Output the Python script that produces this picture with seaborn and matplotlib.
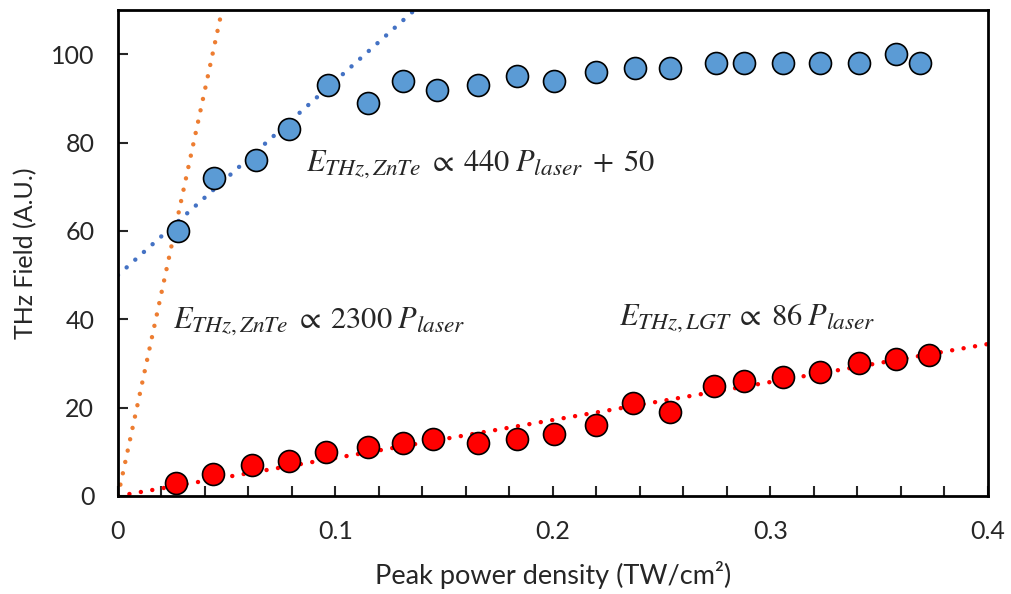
import matplotlib
matplotlib.use("Agg")
import numpy as np
import matplotlib.pyplot as plt
import seaborn as sns
from matplotlib.ticker import MultipleLocator, FuncFormatter

# bigger subscripts, closer to the Cambria Math look of the original
try:
    import matplotlib._mathtext as _mt
    _mt.SHRINK_FACTOR = 0.76
except Exception:
    pass

# ZnTe data (blue)
znte_x = [0.0276, 0.0441, 0.0634, 0.0786, 0.0966, 0.115, 0.131, 0.1467, 0.1655, 0.1834,
          0.2005, 0.220, 0.238, 0.254, 0.275, 0.288, 0.306, 0.323, 0.341, 0.358, 0.369]
znte_y = [60, 72, 76, 83, 93, 89, 94, 92, 93, 95,
          94, 96, 97, 97, 98, 98, 98, 98, 98, 100, 98]

# LGT data (red)
lgt_x = [0.0267, 0.0437, 0.0616, 0.0786, 0.0956, 0.115, 0.131, 0.145, 0.1655, 0.1834,
         0.2005, 0.220, 0.2368, 0.254, 0.274, 0.288, 0.306, 0.323, 0.341, 0.358, 0.373]
lgt_y = [3, 5, 7, 8, 10, 11, 12, 13, 12, 13,
         14, 16, 21, 19, 25, 26, 27, 28, 30, 31, 32]

# trendline coefficients from the annotations
fit_x = [0.0, 0.4]
slope_znte_hi, icpt_znte_hi = 440, 50
slope_znte_lo = 2300
slope_lgt = 86

sns.set_style("white")
plt.rcParams["font.family"] = ["Lato", "DejaVu Sans"]
plt.rcParams["mathtext.fontset"] = "stix"

fig = plt.figure(figsize=(10.11, 5.94), dpi=100)
ax = fig.add_axes([0.1167, 0.165, 0.8603, 0.818])

dot = dict(linestyle=(0, (0.01, 2.6)), dash_capstyle="round", linewidth=3.2, zorder=1)
fx = np.array(fit_x)
ax.plot(fx, slope_znte_lo * fx, color="#ED7D31", **dot)
ax.plot(fx, slope_znte_hi * fx + icpt_znte_hi, color="#4472C4", **dot)
ax.plot(fx, slope_lgt * fx, color="#FF0000", **dot)

sns.scatterplot(x=znte_x, y=znte_y, ax=ax, s=250, color="#5B9BD5",
                edgecolor="black", linewidth=1.2, zorder=3)
sns.scatterplot(x=lgt_x, y=lgt_y, ax=ax, s=250, color="#FF0000",
                edgecolor="black", linewidth=1.2, zorder=3)

ax.set_xlim(0, 0.4)
ax.set_ylim(0, 110)
ax.xaxis.set_major_locator(MultipleLocator(0.1))
ax.xaxis.set_minor_locator(MultipleLocator(0.02))
ax.yaxis.set_major_locator(MultipleLocator(20))
ax.xaxis.set_major_formatter(FuncFormatter(lambda v, p: f"{v:g}"))

ax.tick_params(axis="both", which="major", direction="in", length=7, width=1.5,
               labelsize=18, pad=17, bottom=True, left=True)
ax.tick_params(axis="x", which="minor", direction="in", length=7, width=1.5, bottom=True)

for sp in ax.spines.values():
    sp.set_color("black")
    sp.set_linewidth(2)

ax.set_xlabel("Peak power density (TW/cm\u00b2)", fontsize=19.5, labelpad=13)
ax.set_ylabel("THz Field (A.U.)", fontsize=18, labelpad=10)

ax.text(0.0865, 73.4, r"$E_{THz,ZnTe}\;\propto\;440\;P_{laser}\;+\;50$", fontsize=22, va="baseline")
ax.text(0.0255, 37.9, r"$E_{THz,ZnTe}\;\propto\;2300\;P_{laser}$", fontsize=22, va="baseline")
ax.text(0.2305, 38.6, r"$E_{THz,LGT}\;\propto\;86\;P_{laser}$", fontsize=22, va="baseline")

fig.savefig("out.png", dpi=100)
